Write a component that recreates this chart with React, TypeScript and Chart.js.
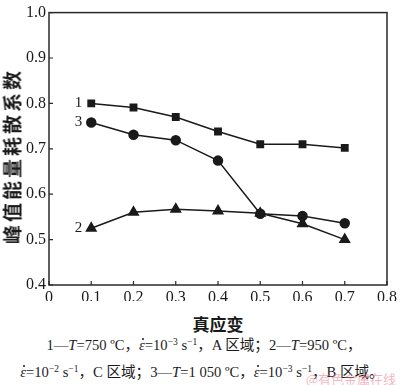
import React, { useEffect, useRef } from "react";
import { Chart, registerables } from "chart.js";

Chart.register(...registerables);

const strain = [0.1, 0.2, 0.3, 0.4, 0.5, 0.6, 0.7];
const series1 = [0.8, 0.791, 0.77, 0.738, 0.71, 0.71, 0.702];
const series2 = [0.525, 0.56, 0.567, 0.563, 0.558, 0.535, 0.5];
const series3 = [0.758, 0.731, 0.719, 0.674, 0.557, 0.552, 0.536];
const seriesLabels = ["1", "2", "3"];
const xTickStep = 0.1;
const yTickStep = 0.1;

const SERIF = '"Liberation Serif", "Times New Roman", "Noto Sans CJK SC", serif';
const INK = "#1a1a1a";

const framePlugin = {
  id: "frameTicks",
  afterDraw(chart: any) {
    const { ctx, chartArea, scales } = chart;
    const { left, right, top, bottom } = chartArea;
    ctx.save();
    ctx.strokeStyle = "#2a2a2a";
    ctx.lineWidth = 1.5;
    ctx.strokeRect(left, top, right - left, bottom - top);
    ctx.lineWidth = 1.2;
    ctx.beginPath();
    scales.x.ticks.forEach((t: any) => {
      const px = scales.x.getPixelForValue(t.value);
      ctx.moveTo(px, bottom);
      ctx.lineTo(px, bottom - 4);
    });
    scales.y.ticks.forEach((t: any) => {
      const py = scales.y.getPixelForValue(t.value);
      ctx.moveTo(left, py);
      ctx.lineTo(left + 4, py);
    });
    ctx.stroke();
    ctx.fillStyle = INK;
    ctx.font = "15px " + SERIF;
    ctx.textAlign = "right";
    ctx.textBaseline = "middle";
    chart.data.datasets.forEach((d: any, i: number) => {
      const px = scales.x.getPixelForValue(strain[0]);
      const py = scales.y.getPixelForValue(d.data[0].y);
      ctx.fillText(seriesLabels[i], px - 9, py);
    });
    ctx.restore();
  },
};

function Eps() {
  return (
    <span style={{ position: "relative", display: "inline-block", fontStyle: "italic" }}>
      ε
      <span
        style={{
          position: "absolute",
          left: "55%",
          top: 1,
          width: 2,
          height: 2,
          borderRadius: 1,
          background: INK,
        }}
      />
    </span>
  );
}

export default function App() {
  const ref = useRef<HTMLCanvasElement>(null);
  useEffect(() => {
    document.body.style.margin = "0";
    const mk = (vals: number[]) => strain.map((x, i) => ({ x, y: vals[i] }));
    const common = {
      borderColor: INK,
      backgroundColor: INK,
      pointBackgroundColor: INK,
      pointBorderColor: INK,
      borderWidth: 1.5,
      tension: 0,
    };
    const chart = new Chart(ref.current!, {
      type: "scatter",
      data: {
        datasets: [
          { ...common, label: seriesLabels[0], data: mk(series1), showLine: true, pointStyle: "rect", pointRadius: 4.5 },
          { ...common, label: seriesLabels[1], data: mk(series2), showLine: true, pointStyle: "triangle", pointRadius: 5.5 },
          { ...common, label: seriesLabels[2], data: mk(series3), showLine: true, pointStyle: "circle", pointRadius: 4.5 },
        ],
      },
      options: {
        animation: false,
        responsive: false,
        devicePixelRatio: 1,
        layout: { padding: { top: 5, right: 10, left: 0, bottom: 0 } },
        plugins: { legend: { display: false }, tooltip: { enabled: false } },
        scales: {
          x: {
            type: "linear",
            min: 0,
            max: 0.8,
            afterFit: (s: any) => { s.height = 16; },
            border: { display: false },
            grid: { display: false, drawTicks: false },
            ticks: {
              stepSize: xTickStep,
              padding: 3,
              color: INK,
              font: { family: SERIF, size: 16 },
              callback: (v: any) => (Math.round(Number(v) * 10) / 10).toString(),
            },
          },
          y: {
            type: "linear",
            min: 0.4,
            max: 1.0,
            afterFit: (s: any) => { s.width = 49; },
            border: { display: false },
            grid: { display: false, drawTicks: false },
            ticks: {
              stepSize: yTickStep,
              padding: 3,
              color: INK,
              font: { family: SERIF, size: 16 },
              callback: (v: any) => Number(v).toFixed(1),
            },
          },
        },
      },
      plugins: [framePlugin],
    });
    return () => chart.destroy();
  }, []);

  const cap: React.CSSProperties = {
    position: "absolute",
    left: 0,
    width: 400,
    textAlign: "center",
    fontFamily: SERIF,
    fontSize: 14.6,
    color: INK,
    whiteSpace: "nowrap",
    lineHeight: "16px",
  };
  const sup = (t: string) => <sup style={{ fontSize: 9.5, verticalAlign: "5px", lineHeight: 0 }}>{t}</sup>;
  const T = <span style={{ fontStyle: "italic" }}>T</span>;

  return (
    <div style={{ position: "fixed", left: 0, top: 0, width: 400, height: 385, background: "#fff", overflow: "hidden" }}>
      <canvas ref={ref} width={400} height={301} style={{ position: "absolute", left: 0, top: 0 }} />
      <div
        style={{
          position: "absolute",
          left: 11,
          top: 156,
          transform: "translate(-50%, -50%) rotate(-90deg)",
          fontFamily: '"Noto Sans CJK SC", sans-serif',
          fontWeight: 600,
          fontSize: 19,
          letterSpacing: 3,
          whiteSpace: "nowrap",
          color: INK,
        }}
      >
        峰值能量耗散系数
      </div>
      <div
        style={{
          position: "absolute",
          left: 218,
          top: 323,
          transform: "translate(-50%, -50%)",
          fontFamily: '"Noto Sans CJK SC", sans-serif',
          fontWeight: 600,
          fontSize: 17,
          whiteSpace: "nowrap",
          color: INK,
        }}
      >
        真应变
      </div>
      <div style={{ ...cap, top: 337, left: 4 }}>
        1—{T}=750 ºC，<Eps />=10{sup("−3")} s{sup("−1")}，A 区域；2—{T}=950 ºC，
      </div>
      <div style={{ ...cap, top: 364, left: 2 }}>
        <Eps />=10{sup("−2")} s{sup("−1")}，C 区域；3—{T}=1 050 ºC，<Eps />=10{sup("−3")} s{sup("−1")}，B 区域。
      </div>
      <div
        style={{
          position: "absolute",
          right: 4,
          top: 369,
          fontFamily: '"Noto Sans CJK SC", sans-serif',
          fontSize: 13,
          color: "rgba(230,120,140,0.55)",
          whiteSpace: "nowrap",
        }}
      >
        @有色金属在线
      </div>
    </div>
  );
}
